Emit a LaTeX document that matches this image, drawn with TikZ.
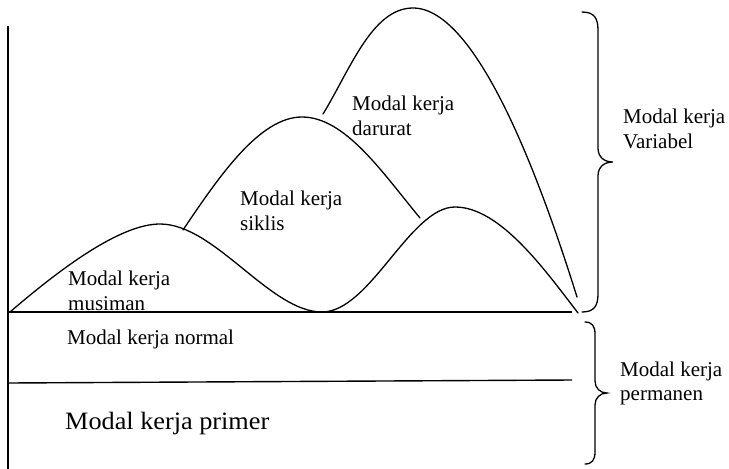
\documentclass[tikz,border=0pt]{standalone}
\usepackage{fontspec}
\setmainfont{Liberation Serif}
\newfontfamily\primerfont[FakeStretch=1.05]{Liberation Serif}
\begin{document}
\begin{tikzpicture}[x=1pt,y=-1pt,
  lbl/.style={anchor=base west, inner sep=0pt, align=left, font=\fontsize{21}{25}\selectfont},
  big/.style={anchor=base west, inner sep=0pt, font=\primerfont\fontsize{25}{30}\selectfont},
  ln/.style={line width=1.4pt},
  crv/.style={line width=1.3pt, line cap=round},
  brace/.style={line width=1.3pt, line cap=round}]
\useasboundingbox (0,0) rectangle (729,469);
% axis and horizontal lines
\coordinate (axT) at (8,26);
\coordinate (axB) at (8,469);
\coordinate (b0) at (8,312);
\coordinate (b1) at (572,312);
\coordinate (n0) at (8,383);
\coordinate (n1) at (572,380);
\draw[ln] (axT) -- (axB);
\draw[ln] (b0) -- (b1);
\draw[ln] (n0) -- (n1);
% musiman curve
\draw[crv] (10,312) .. controls (60,269) and (120,224) .. (160,224)
  .. controls (215,224) and (270,312) .. (322,312)
  .. controls (370,312) and (410,207) .. (455,207)
  .. controls (500,207) and (545,270) .. (578,313);
% siklis curve
\draw[crv] (183,230) .. controls (220,175) and (260,117) .. (302,117)
  .. controls (345,117) and (382,172) .. (420,218);
% darurat curve
\draw[crv] (323,114) .. controls (350,70) and (372,8) .. (413,8)
  .. controls (478,8) and (542,185) .. (577,297);
% upper brace
\draw[brace] (582,12) .. controls (594,12) and (598,18) .. (598,30)
  -- (598,148) .. controls (598,157) and (604,162) .. (613,162)
  .. controls (604,162) and (598,167) .. (598,176)
  -- (598,294) .. controls (598,306) and (594,312) .. (582,312);
% lower brace
\draw[brace] (585,322) .. controls (592,322) and (595,326) .. (595,334)
  -- (595,381) .. controls (595,388) and (600,393) .. (607,393)
  .. controls (600,393) and (595,398) .. (595,405)
  -- (595,452) .. controls (595,460) and (592,464) .. (585,464);
% labels (base anchor = baseline of last line)
\node[lbl] (musiman) at (68,310) {Modal kerja\\musiman};
\node[lbl] (siklis) at (240,230) {Modal kerja\\siklis};
\node[lbl] (darurat) at (352,135) {Modal kerja\\darurat};
\node[lbl] (variabel) at (623,148) {Modal kerja\\Variabel};
\node[lbl] (normal) at (67,344) {Modal kerja normal};
\node[big] (primer) at (65,429) {Modal kerja primer};
\node[lbl, font=\fontsize{21}{24}\selectfont] (permanen) at (620,400) {Modal kerja\\permanen};
\end{tikzpicture}
\end{document}
